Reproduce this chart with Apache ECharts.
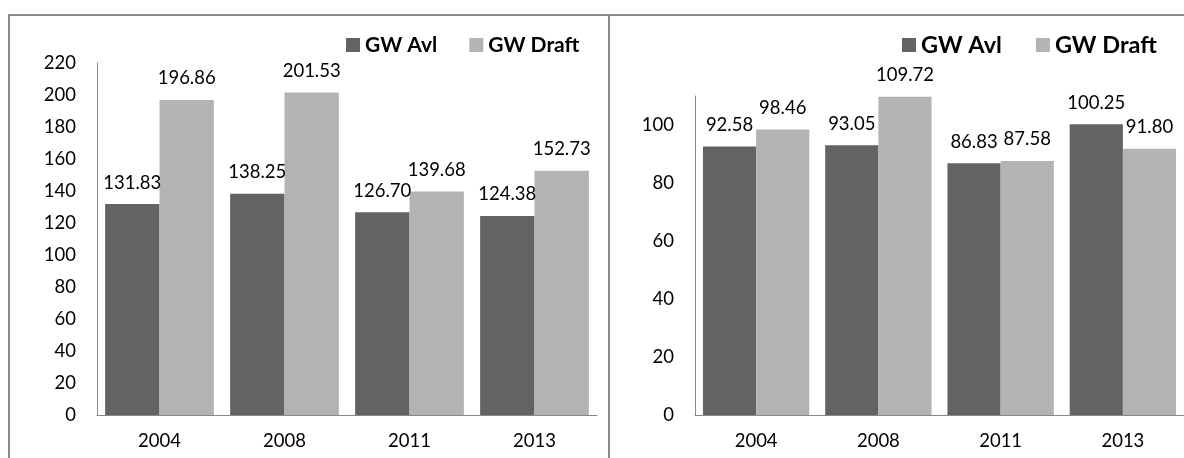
<!DOCTYPE html>
<html>
<head>
<meta charset="utf-8">
<script src="https://cdn.jsdelivr.net/npm/echarts@6/dist/echarts.min.js"></script>
<style>
  html, body { margin: 0; padding: 0; background: #fff; }
  #main { width: 1184px; height: 458px; }
</style>
</head>
<body>
<div id="main"></div>
<script>
(function () {
    var years = ['2004', '2008', '2011', '2013'];
    var seriesNames = ['GW Avl', 'GW Draft'];
    // left panel
    var leftAvl = [131.83, 138.25, 126.70, 124.38];
    var leftDraft = [196.86, 201.53, 139.68, 152.73];
    // right panel
    var rightAvl = [92.58, 93.05, 86.83, 100.25];
    var rightDraft = [98.46, 109.72, 87.58, 91.80];

    var darkCol = '#636363';
    var lightCol = '#b3b3b3';
    var fontFam = 'Lato, "Open Sans", sans-serif';
    var myChart = echarts.init(document.getElementById('main'));

    function xAx(gi) {
        return {
            type: 'category',
            gridIndex: gi,
            data: years,
            axisLine: { lineStyle: { color: '#888', width: 1 } },
            axisTick: { show: false },
            axisLabel: { color: '#000', fontSize: 18.5, fontFamily: fontFam, margin: 17 }
        };
    }
    function yAx(gi, max) {
        return {
            type: 'value',
            gridIndex: gi,
            min: 0,
            max: max,
            interval: 20,
            splitLine: { show: false },
            axisLine: { show: true, lineStyle: { color: '#888', width: 1 } },
            axisTick: { show: false },
            axisLabel: { color: '#000', fontSize: 18.5, fontFamily: fontFam, margin: 21, showMaxLabel: max % 20 === 0 }
        };
    }
    function bar(name, gi, data, col) {
        return {
            name: name,
            type: 'bar',
            xAxisIndex: gi,
            yAxisIndex: gi,
            data: data,
            barGap: 0,
            barCategoryGap: '13%',
            itemStyle: { color: col },
            label: {
                show: true,
                position: 'top',
                distance: 12,
                color: '#000',
                fontSize: 18.5,
                fontFamily: fontFam,
                formatter: function (p) { return p.value.toFixed(2); }
            }
        };
    }
    function leg(left, size, gap) {
        return {
            left: left,
            top: 27,
            icon: 'rect',
            itemWidth: 14,
            itemHeight: 14,
            itemGap: gap,
            selectedMode: false,
            data: seriesNames,
            textStyle: { color: '#000', fontSize: size, fontWeight: 'bold', fontFamily: fontFam, lineHeight: 26 }
        };
    }

    var option = {
        color: [darkCol, lightCol],
        animation: false,
        graphic: [
            { type: 'rect', shape: { x: 9, y: 15, width: 600, height: 500 },
              style: { fill: 'none', stroke: '#8c8c8c', lineWidth: 2 }, silent: true },
            { type: 'rect', shape: { x: 609, y: 15, width: 600, height: 500 },
              style: { fill: 'none', stroke: '#8c8c8c', lineWidth: 2 }, silent: true }
        ],
        legend: [leg(341, 21, 32), leg(897, 23.5, 34)],
        grid: [
            { left: 97, right: 587, top: 63, bottom: 43 },
            { left: 695, right: -3, top: 96, bottom: 43 }
        ],
        xAxis: [xAx(0), xAx(1)],
        yAxis: [yAx(0, 220), yAx(1, 110)],
        series: [
            bar(seriesNames[0], 0, leftAvl, darkCol),
            bar(seriesNames[1], 0, leftDraft, lightCol),
            bar(seriesNames[0], 1, rightAvl, darkCol),
            bar(seriesNames[1], 1, rightDraft, lightCol)
        ]
    };
    myChart.setOption(option);
})();
</script>
</body>
</html>
